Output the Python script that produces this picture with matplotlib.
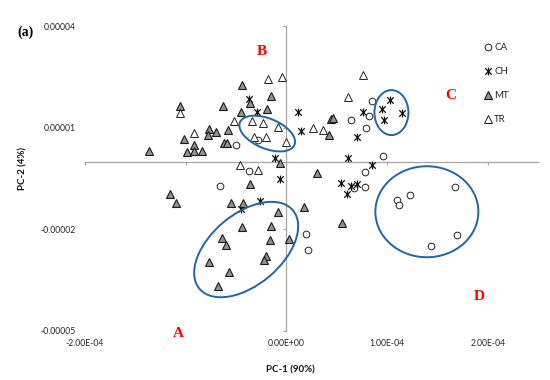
import numpy as np
import matplotlib
matplotlib.use("Agg")
import matplotlib.pyplot as plt
from matplotlib.patches import Ellipse
from matplotlib.path import Path
from matplotlib.transforms import Affine2D

# ---------------- data (PC-1 in units of 1e-4, PC-2 in units of 1e-5) ----------------
SX, SY = 1e-4, 1e-5

ca_x = [-0.498, -0.278, -0.366, -0.658, 0.198, 0.219, 0.646, 0.790, 0.826, 0.854,
        0.964, 0.785, 0.671, 0.782, 1.099, 1.116, 1.230, 1.671, 1.700, 1.440]
ca_y = [0.49, 0.635, -0.285, -0.72, -2.14, -2.60, 1.23, 0.99, 1.355, 1.795,
        0.15, -0.295, -0.795, -0.76, -1.13, -1.275, -0.985, -0.765, -2.18, -2.485]

ch_x = [-0.373, -0.290, 0.112, -0.108, -0.060, -0.262, -0.450, 0.148, 0.766, 1.032,
        0.953, 1.145, 0.966, 0.698, 0.612, 0.850, 0.543, 0.645, 0.698, 0.600]
ch_y = [1.85, 1.45, 1.45, 0.10, -0.51, -1.16, -1.41, 0.91, 1.45, 1.83,
        1.565, 1.435, 1.23, 0.72, 0.11, -0.10, -0.645, -0.71, -0.67, -0.955]

mt_x = [-1.360, -1.060, -1.020, -0.920, -0.990, -0.920, -0.835, -0.765, -0.780, -0.695,
        -0.575, -0.620, -0.590, -0.625, -0.440, -0.360, -0.450, -0.195, -0.148, -0.060,
        0.443, 0.465, 0.428, 0.300, 0.554, -1.160, -1.095, -0.552, -0.428, -0.357,
        -0.437, -0.642, -0.601, -0.770, -0.572, -0.682, -0.148, -0.158, -0.078, 0.030,
        -0.205, -0.226, 0.172]
mt_y = [0.32, 1.64, 0.68, 0.48, 0.28, 0.30, 0.32, 0.96, 0.79, 0.86,
        0.93, 0.55, 0.56, 1.63, 2.25, 1.73, 1.46, 1.54, 1.93, -0.05,
        1.25, 1.28, 0.77, -0.34, -1.80, -0.95, -1.23, -1.23, -1.23, -0.65,
        -1.92, -2.26, -2.47, -2.96, -3.25, -3.66, -1.90, -2.32, -1.50, -2.28,
        -2.79, -2.91, -1.355]

tr_x = [-1.055, -0.915, -0.520, -0.345, -0.235, -0.085, -0.325, -0.203, -0.008, -0.180,
        -0.043, -0.465, -0.280, 0.260, 0.362, 0.614, 0.765]
tr_y = [1.43, 0.85, 1.19, 1.19, 1.13, 1.01, 0.72, 0.73, 0.58, 2.45,
        2.50, -0.10, -0.26, 0.99, 0.935, 1.91, 2.56]

series_names = ["CA", "CH", "MT", "TR"]

x_ticks = [-2e-4, -1e-4, 0.0, 1e-4, 2e-4]
x_ticklabels = ["-2.00E-04", "", "0.00E+00", "1.00E-04", "2.00E-04"]
y_ticks = [4e-5, 1e-5, -2e-5, -5e-5]
y_ticklabels = ["0.00004", "0.00001", "-0.00002", "-0.00005"]

# group ellipses: centre (data), width/height (pixels), angle (deg)
ell_labels = ["A", "B", "C", "D"]
ell_cx = [-0.399e-4, -0.190e-4, 1.044e-4, 1.396e-4]
ell_cy = [-2.596e-5, 0.826e-5, 1.445e-5, -1.481e-5]
ell_w = [122, 59, 34, 103]
ell_h = [71, 30, 45, 91]
ell_ang = [40, -22.5, 0, 0]

# group letters positions
let_x = [-1.07e-4, -0.248e-4, 1.63e-4, 1.916e-4]
let_y = [-5.08e-5, 3.25e-5, 1.945e-5, -3.97e-5]

# ---------------- figure ----------------
fig = plt.figure(figsize=(5.5, 3.8), dpi=100)
ax = fig.add_axes([85 / 550, 49 / 380, 453 / 550, 305 / 380])
ax.set_xlim(-2e-4, 2.5e-4)
ax.set_ylim(-5e-5, 4e-5)

axis_col = "#a6a6a6"
for s in ["top", "right"]:
    ax.spines[s].set_visible(False)
for s in ["left", "bottom"]:
    ax.spines[s].set_position(("data", 0))
    ax.spines[s].set_color(axis_col)
    ax.spines[s].set_linewidth(0.9)
    ax.spines[s].set_zorder(1)
ax.set_xticks(x_ticks)
ax.set_yticks(y_ticks)
ax.tick_params(direction="out", length=2.5, width=0.8, color=axis_col,
               labelbottom=False, labelleft=False)

secx = ax.secondary_xaxis("bottom")
secx.set_xticks(x_ticks, labels=x_ticklabels)
secx.tick_params(length=0, pad=5.5)
secx.spines["bottom"].set_visible(False)
for t in secx.get_xticklabels():
    t.set_fontfamily("Lato"); t.set_fontsize(6.2); t.set_color("#262626")
secy = ax.secondary_yaxis("left")
secy.set_yticks(y_ticks, labels=y_ticklabels)
secy.tick_params(length=0, pad=6.5)
secy.spines["left"].set_visible(False)
for t in secy.get_yticklabels():
    t.set_fontfamily("Lato"); t.set_fontsize(6.2); t.set_color("#262626")

# star marker (X with vertical bar)
star = Path([(-1, -1), (1, 1), (-1, 1), (1, -1), (0, -1.2), (0, 1.2)],
            [Path.MOVETO, Path.LINETO] * 3)

ax.plot(np.array(ca_x) * SX, np.array(ca_y) * SY, ls="none", marker="o", ms=4.8,
        mfc="white", mec="#222222", mew=0.7, label="CA", zorder=3)
ax.plot(np.array(ch_x) * SX, np.array(ch_y) * SY, ls="none", marker=star, ms=5.6,
        mfc="none", mec="#111111", mew=0.9, label="CH", zorder=3)
ax.plot(np.array(mt_x) * SX, np.array(mt_y) * SY, ls="none", marker="^", ms=5.4,
        mfc="#929292", mec="#1a1a1a", mew=0.8, label="MT", zorder=3)
ax.plot(np.array(tr_x) * SX, np.array(tr_y) * SY, ls="none", marker="^", ms=5.4,
        mfc="white", mec="#222222", mew=0.7, label="TR", zorder=3)

# ellipses drawn with pixel-based sizes
fig.canvas.draw()
bb = ax.get_window_extent()
px_per_x = bb.width / (2.5e-4 + 2e-4)
px_per_y = bb.height / (4e-5 + 5e-5)
for cx, cy, w, h, a in zip(ell_cx, ell_cy, ell_w, ell_h, ell_ang):
    tr = Affine2D().scale(1 / px_per_x, 1 / px_per_y).translate(cx, cy) + ax.transData
    e = Ellipse((0, 0), w, h, angle=a, fill=False, ec="#1f66a3", lw=1.4,
                transform=tr, zorder=4)
    ax.add_patch(e)

for lab, lx, ly in zip(ell_labels, let_x, let_y):
    ax.text(lx, ly, lab, color="red", fontsize=11, fontweight="bold",
            family="Liberation Serif", ha="center", va="center", clip_on=False)

leg = ax.legend(loc="upper left", bbox_to_anchor=(485 / 550, 1 - 43 / 380),
                bbox_transform=fig.transFigure, frameon=False, numpoints=1,
                handlelength=0.6, handletextpad=0.35, labelspacing=1.55,
                borderpad=0, borderaxespad=0,
                prop=dict(family="Lato", size=7))
for t in leg.get_texts():
    t.set_color("#262626")

fig.text(290 / 550, 1 - 370 / 380, "PC-1 (90%)", ha="center", va="center",
         family="Lato", fontweight="bold", fontsize=7, color="#111111")
fig.text(22.7 / 550, 1 - 168 / 380, "PC-2 (4%)", ha="center", va="center",
         rotation=90, family="Lato", fontweight="bold", fontsize=7, color="#111111")
fig.text(25 / 550, 1 - 32 / 380, "(a)", ha="center", va="center",
         family="Liberation Serif", fontweight="bold", fontsize=10)

fig.savefig("out.png", dpi=100)
